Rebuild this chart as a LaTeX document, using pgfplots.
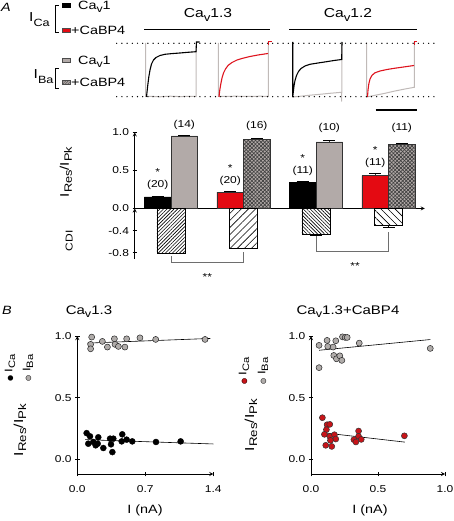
\documentclass[border=0pt]{standalone}
\usepackage{graphicx}
\usepackage{fontspec}
\setmainfont{Liberation Sans}[FakeStretch=1.2]
\newfontfamily\symfont{DejaVu Sans}
\usepackage{pgfplots}
\pgfplotsset{compat=1.18}
\usetikzlibrary{patterns.meta}
\definecolor{barGray}{RGB}{178,170,168}
\definecolor{barRed}{RGB}{228,10,18}
\definecolor{dotGray}{RGB}{176,172,170}
\definecolor{dotRed}{RGB}{200,20,25}
\definecolor{trGray}{RGB}{192,186,184}
\definecolor{trRed}{RGB}{222,20,30}
\definecolor{brGray}{RGB}{110,110,110}
\newcommand\fs[1]{\fontsize{#1}{#1}\selectfont}
\newcommand\sub[1]{\raisebox{-0.45ex}{\scalebox{0.85}{#1}}}
\pgfplotsset{
  every axis/.append style={
    /pgf/number format/assume math mode=true,
    tick label style={font=\fs{10}},
    tick style={black, line width=0.8pt},
    axis line style={-, black, line width=0.8pt},
    tick align=outside, major tick length=4.5pt,
    scale only axis, anchor=south west, clip=false,
  },
  onedec/.style={yticklabel style={/pgf/number format/fixed, /pgf/number format/fixed zerofill, /pgf/number format/precision=1}},
  onedecx/.style={xticklabel style={/pgf/number format/fixed, /pgf/number format/fixed zerofill, /pgf/number format/precision=1}},
  barstyle/.style={ybar, bar width=0.366, bar shift=0pt, line width=0.6pt,
     error bars/y dir=plus, error bars/y explicit, error bars/error bar style={line width=0.7pt},
     error bars/error mark options={rotate=90, line width=0.7pt, mark size=6pt}},
  cdistyle/.style={ybar, bar width=0.39, bar shift=0pt, line width=0.6pt, fill=white, draw=black,
     error bars/y dir=minus, error bars/y explicit, error bars/error bar style={line width=0.7pt},
     error bars/error mark options={rotate=90, line width=0.7pt, mark size=6pt}},
}
\begin{document}
\begin{tikzpicture}
\useasboundingbox (0pt,0pt) rectangle (454pt,521pt);

% ---------------- top: legend and traces (pixel coordinates, y downward)
\begin{axis}[at={(0pt,401pt)}, width=454pt, height=120pt,
  xmin=0, xmax=454, ymin=0, ymax=120, y dir=reverse, hide axis]
\addplot[trGray, line width=1pt] coordinates {(145.7,43) (145.7,96.5) (150,96.3) (160,96.8) (170,96.2) (180,96.6) (190,96.3) (196,96.5) (196.3,43)};
\addplot[black, line width=1.1pt] coordinates {(146.5,97) (147,92) (147.8,85) (148.8,77) (150,70) (151.5,64) (153.5,60) (156,57.5) (160,55.5) (165,54.3) (172,53.6) (180,53) (188,52.3) (196,51.7) (196.5,42) (199.5,42)};
\addplot[trGray, line width=1pt] coordinates {(218.3,43) (218.3,96.5) (225,96.5) (235,96.2) (250,96.5) (260,96.2) (268.3,96.4) (268.5,42.5)};
\addplot[trRed, line width=1.1pt] coordinates {(219,97) (219.8,90) (220.8,84) (222,78) (223.5,73) (225.5,69) (228,65.5) (232,62.5) (237,60) (243,58.2) (250,56.5) (258,55) (268,53.5)};
\addplot[trRed, line width=1pt] coordinates {(268.5,45) (268.5,42) (271.5,42)};
\addplot[trGray, line width=1pt] coordinates {(292.7,43) (292.7,97) (300,96.3) (310,95.2) (320,94.3) (330,93.3) (341.5,92.3) (341.7,101.5) (342,43)};
\addplot[black, line width=1.1pt] coordinates {(292.7,42) (292.7,97) (293.3,92) (294,86) (295,80.5) (296.5,75.5) (298.5,71.5) (301,68.5) (305,66) (310,64.3) (318,63) (326,61.8) (334,60.5) (341.7,59.5) (342,42)};
\addplot[trGray, line width=1pt] coordinates {(366.7,42.5) (366.7,97) (375,95.3) (385,93.3) (395,91) (405,89) (414.3,87.3) (414.5,42.5)};
\addplot[trRed, line width=1.1pt] coordinates {(367.5,97) (368,90) (368.8,84) (370,79) (372,75.3) (375,72.8) (380,71) (387,69.5) (395,68.2) (405,66.8) (414,65.5)};
\addplot[trRed, line width=1pt] coordinates {(414.5,45) (414.5,42) (416.5,42)};
\draw[line width=1.4pt, line cap=round, dash pattern=on 0pt off 5.2pt] (axis cs:116.7,43.3) -- (axis cs:434,43.3);
\draw[line width=1.4pt, line cap=round, dash pattern=on 0pt off 5.2pt] (axis cs:116.7,96.7) -- (axis cs:434,96.7);
\draw[line width=0.9pt] (axis cs:144,29.5) -- (axis cs:270,29.5);
\draw[line width=0.9pt] (axis cs:289,29.5) -- (axis cs:416.5,29.5);
\draw[line width=1.2pt] (axis cs:375.7,110) -- (axis cs:416.7,110);
\node[anchor=base, font=\fs{13}] at (axis cs:208,18) {Ca\sub{v}1.3};
\node[anchor=base, font=\fs{13}] at (axis cs:348,18) {Ca\sub{v}1.2};
\node[anchor=base west, font=\fs{12}\itshape, inner sep=0pt] at (axis cs:1,11.7) {A};
\node[anchor=base west, inner sep=0pt] at (axis cs:29,21.5) {\fs{13}I\raisebox{-5pt}{\fs{10.5}Ca}};
\node[anchor=base west, inner sep=0pt] at (axis cs:33.5,78.5) {\fs{13}I\raisebox{-5pt}{\fs{10.5}Ba}};
\draw[line width=0.8pt] (axis cs:58.5,5) -- (axis cs:55.5,5) -- (axis cs:55.5,32) -- (axis cs:58.5,32);
\draw[line width=0.8pt] (axis cs:58.5,68) -- (axis cs:55.5,68) -- (axis cs:55.5,88) -- (axis cs:58.5,88);
\filldraw[fill=black, draw=black, line width=0.4pt] (axis cs:62,3.5) rectangle (axis cs:70,7.5);
\filldraw[fill=barRed, draw=black!70, line width=0.4pt] (axis cs:62,28.3) rectangle (axis cs:70,32.3);
\filldraw[fill=barGray, draw=black!70, line width=0.4pt] (axis cs:62,58) rectangle (axis cs:70,62);
\filldraw[fill=barGray, draw=black!70, line width=0.4pt, postaction={pattern color=black!70, pattern={Lines[angle=45,distance=1.8pt,line width=0.5pt]}}] (axis cs:62,80.5) rectangle (axis cs:70,84.5);
\node[anchor=base west, font=\fs{12}, inner sep=0pt] at (axis cs:78,10) {Ca\sub{v}1};
\node[anchor=base west, font=\fs{12}, inner sep=0pt] at (axis cs:71,35) {+CaBP4};
\node[anchor=base west, font=\fs{12}, inner sep=0pt] at (axis cs:78,65) {Ca\sub{v}1};
\node[anchor=base west, font=\fs{12}, inner sep=0pt] at (axis cs:71,87) {+CaBP4};
\end{axis}

% ---------------- bar chart, upper part
\begin{axis}[at={(134.75pt,312.6pt)}, width=290pt, height=76pt,
  xmin=0.5, xmax=4.5, ymin=0, ymax=1,
  axis x line=bottom, axis y line=left, xtick=\empty, ytick={0,0.5,1}, onedec]
\addplot[barstyle, fill=black, draw=black] coordinates {(0.817,0.15) +- (0,0.006) (2.817,0.34) +- (0,0.012)};
\addplot[barstyle, fill=barGray, draw=black!80] coordinates {(1.183,0.955) +- (0,0.006) (3.183,0.875) +- (0,0.02)};
\addplot[barstyle, fill=barRed, draw=black!80] coordinates {(1.817,0.215) +- (0,0.006) (3.817,0.43) +- (0,0.03)};
\addplot[barstyle, fill=barGray, draw=black!80,
  postaction={pattern color=black!75, pattern={Lines[angle=45,distance=2.6pt,line width=0.7pt]}},
  postaction={pattern color=black!75, pattern={Lines[angle=-45,distance=2.6pt,line width=0.7pt]}}]
  coordinates {(2.183,0.91) +- (0,0.01) (4.183,0.84) +- (0,0.02)};
\node[font=\fs{10}] at (axis cs:0.817,0.308) {(20)};
\node[font=\fs{10}] at (axis cs:0.817,0.48) {*};
\node[font=\fs{10}] at (axis cs:1.183,1.097) {(14)};
\node[font=\fs{10}] at (axis cs:1.817,0.364) {(20)};
\node[font=\fs{10}] at (axis cs:1.817,0.535) {*};
\node[font=\fs{10}] at (axis cs:2.183,1.084) {(16)};
\node[font=\fs{10}] at (axis cs:2.817,0.496) {(11)};
\node[font=\fs{10}] at (axis cs:2.817,0.665) {*};
\node[font=\fs{10}] at (axis cs:3.183,1.062) {(10)};
\node[font=\fs{10}] at (axis cs:3.817,0.601) {(11)};
\node[font=\fs{10}] at (axis cs:3.817,0.765) {*};
\node[font=\fs{10}] at (axis cs:4.183,1.054) {(11)};
\end{axis}

% ---------------- bar chart, lower part (CDI)
\begin{axis}[at={(134.75pt,262pt)}, width=290pt, height=50.5pt,
  xmin=0.5, xmax=4.5, ymin=-0.91, ymax=0,
  axis x line=none, axis y line=left, ytick={-0.4,-0.8}, onedec]
\addplot[cdistyle, postaction={pattern color=black, pattern={Lines[angle=45,distance=2.5pt,line width=0.6pt]}}] coordinates {(1,-0.80) +- (0,0.008)};
\addplot[cdistyle, postaction={pattern color=black, pattern={Lines[angle=45,distance=5pt,line width=0.6pt]}}] coordinates {(2,-0.71) +- (0,0.012)};
\addplot[cdistyle, postaction={pattern color=black, pattern={Lines[angle=-45,distance=2.5pt,line width=0.6pt]}}] coordinates {(3,-0.46) +- (0,0.02)};
\addplot[cdistyle, postaction={pattern color=black, pattern={Lines[angle=-45,distance=5pt,line width=0.6pt]}}] coordinates {(4,-0.30) +- (0,0.035)};
\draw[brGray, line width=0.9pt] (axis cs:1,-0.86) -- (axis cs:1,-0.98) -- (axis cs:2,-0.98) -- (axis cs:2,-0.78);
\draw[brGray, line width=0.9pt] (axis cs:3,-0.50) -- (axis cs:3,-0.78) -- (axis cs:4,-0.78) -- (axis cs:4,-0.42);
\node[font=\fs{10}] at (axis cs:1.5,-1.23) {**};
\node[font=\fs{10}] at (axis cs:3.54,-1.03) {**};
\end{axis}

\node[rotate=90, font=\fs{12.5}] at (66pt,349pt) {I\sub{Res}/I\sub{Pk}};
\node[rotate=90, font=\fs{10}] at (69.3pt,280.3pt) {CDI};

% ---------------- B panels
\node[anchor=base west, font=\fs{12}\itshape, inner sep=0pt] at (2pt,206pt) {B};
\node[anchor=base, font=\fs{12.5}] at (89pt,206pt) {Ca\sub{v}1.3};
\node[anchor=base, font=\fs{12.5}] at (348pt,206pt) {Ca\sub{v}1.3+CaBP4};

\begin{axis}[at={(77.3pt,49.3pt)}, width=136pt, height=135.6pt,
  xmin=0, xmax=1.4, ymin=-0.1, ymax=1,
  axis lines=left, axis x line shift=2.3pt,
  xtick={0,0.7,1.4}, ytick={0,0.5,1}, onedec, onedecx,
  xticklabel style={yshift=-6pt}]
\addplot[black, line width=0.6pt] coordinates {(0.1,0.943) (1.37,0.981)};
\addplot[black, line width=0.6pt] coordinates {(0.08,0.16) (1.4,0.125)};
\addplot[only marks, mark=*, mark size=3pt, mark options={fill=dotGray, draw=black!85, line width=0.5pt}] coordinates {
(0.148,0.992) (0.137,0.933) (0.137,0.897) (0.258,0.957) (0.31,0.911) (0.382,0.978) (0.388,0.933)
(0.423,0.916) (0.49,0.911) (0.508,0.978) (0.645,0.986) (0.807,0.973) (1.315,0.973)};
\addplot[only marks, mark=*, mark size=3pt, mark options={fill=black, draw=black}] coordinates {
(0.096,0.213) (0.131,0.187) (0.113,0.127) (0.165,0.141) (0.189,0.114) (0.216,0.179) (0.21,0.127)
(0.268,0.092) (0.337,0.168) (0.347,0.122) (0.361,0.059) (0.371,0.168) (0.463,0.203) (0.457,0.146)
(0.508,0.16) (0.566,0.146) (0.81,0.141) (1.064,0.146)};
\end{axis}
\node[font=\fs{12}] at (145pt,11pt) {I (nA)};
\node[rotate=90, font=\fs{13}] at (20pt,91pt) {I\sub{Res}/I\sub{Pk}};
\node[rotate=90, font=\fs{11}] at (10pt,153pt) {{\symfont\fs{7}●}\ I\sub{Ca}};
\node[rotate=90, font=\fs{11}] at (28pt,153pt) {{\symfont\fs{7}\rlap{\textcolor{dotGray}{●}}○}\ I\sub{Ba}};

\begin{axis}[at={(311pt,49.3pt)}, width=134pt, height=135.6pt,
  xmin=0, xmax=1.0, ymin=-0.1, ymax=1,
  axis lines=left, axis x line shift=2.3pt,
  xtick={0,0.5,1}, ytick={0,0.5,1}, onedec, onedecx,
  xticklabel style={yshift=-6pt}]
\addplot[black, line width=0.6pt] coordinates {(0.06,0.885) (0.89,0.972)};
\addplot[black, line width=0.6pt] coordinates {(0.1,0.215) (0.7,0.14)};
\addplot[only marks, mark=*, mark size=3pt, mark options={fill=dotGray, draw=black!85, line width=0.5pt}] coordinates {
(0.06,0.925) (0.12,0.965) (0.125,0.916) (0.165,0.911) (0.185,0.962) (0.235,0.994) (0.255,0.989)
(0.27,0.989) (0.17,0.843) (0.19,0.816) (0.215,0.84) (0.23,0.803) (0.36,0.943) (0.89,0.9) (0.06,0.744)};
\addplot[only marks, mark=*, mark size=3pt, mark options={fill=dotRed, draw=black!80, line width=0.5pt}] coordinates {
(0.085,0.338) (0.12,0.281) (0.14,0.284) (0.115,0.241) (0.1,0.203) (0.14,0.187) (0.175,0.2)
(0.185,0.165) (0.145,0.154) (0.11,0.114) (0.155,0.105) (0.355,0.23) (0.355,0.187) (0.32,0.16)
(0.335,0.141) (0.375,0.162) (0.697,0.191)};
\end{axis}
\node[font=\fs{12}] at (370pt,11pt) {I (nA)};
\node[rotate=90, font=\fs{13}] at (251pt,96pt) {I\sub{Res}/I\sub{Pk}};
\node[rotate=90, font=\fs{11}] at (244pt,150pt) {{\symfont\fs{7}\rlap{\textcolor{dotRed}{●}}○}\ I\sub{Ca}};
\node[rotate=90, font=\fs{11}] at (263pt,150pt) {{\symfont\fs{7}\rlap{\textcolor{dotGray}{●}}○}\ I\sub{Ba}};
\end{tikzpicture}
\end{document}
